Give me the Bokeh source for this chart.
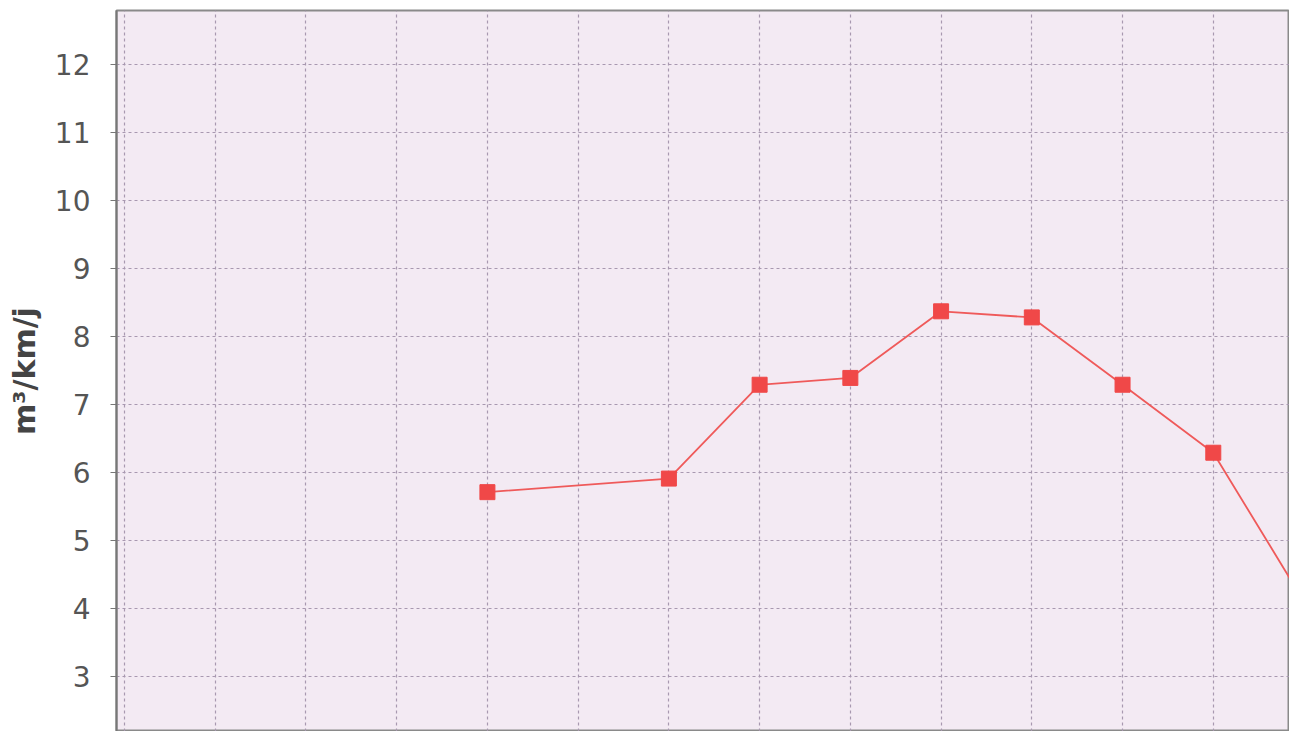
from bokeh.plotting import figure
from bokeh.models import Range1d, FixedTicker
from bokeh.embed import file_html
from bokeh.resources import INLINE

# Data (category index along the x axis, value in m³/km/j)
x_idx = [4, 6, 7, 8, 9, 10, 11, 12, 13]
values = [5.71, 5.91, 7.29, 7.39, 8.37, 8.28, 7.29, 6.29, 4.1]
y_ticks = [2, 3, 4, 5, 6, 7, 8, 9, 10, 11, 12]
x_ticks = list(range(0, 14))
y_label = "m³/km/j"

p = figure(width=1289, height=731, output_backend="svg", toolbar_location=None,
           x_range=Range1d(-0.088, 12.84), y_range=Range1d(2.19, 12.794),
           min_border_left=116, min_border_top=10, min_border_right=0, min_border_bottom=0)

p.background_fill_color = "#f3eaf3"
p.border_fill_color = "white"
p.outline_line_color = "#8a8a8a"
p.outline_line_width = 2

p.xaxis.visible = False
p.xaxis.ticker = FixedTicker(ticks=x_ticks)
p.yaxis.ticker = FixedTicker(ticks=y_ticks)
p.yaxis.axis_label = y_label
p.yaxis.axis_label_text_font = "DejaVu Sans"
p.yaxis.axis_label_text_font_style = "bold"
p.yaxis.axis_label_text_font_size = "30px"
p.yaxis.axis_label_text_color = "#444444"
p.yaxis.axis_label_standoff = 10
p.yaxis.major_label_text_font = "DejaVu Sans"
p.yaxis.major_label_text_font_size = "28px"
p.yaxis.major_label_text_color = "#555555"
p.yaxis.major_label_standoff = 20
p.yaxis.major_tick_out = 6
p.yaxis.major_tick_in = 0
p.yaxis.minor_tick_line_color = None
p.yaxis.axis_line_color = "#777777"
p.yaxis.axis_line_width = 2
p.yaxis.major_tick_line_color = "#777777"

for g in (p.xgrid, p.ygrid):
    g.grid_line_color = "#a898b0"
    g.grid_line_dash = "3 3"
    g.grid_line_width = 1.2
p.xgrid.ticker = FixedTicker(ticks=x_ticks)
p.ygrid.ticker = FixedTicker(ticks=y_ticks)

p.line(x_idx, values, line_color="#ef5a5a", line_width=1.8)
p.scatter(x_idx, values, marker="square", size=15, fill_color="#f04848", line_color="#f04848")

open("out.html", "w").write(file_html(p, INLINE))
